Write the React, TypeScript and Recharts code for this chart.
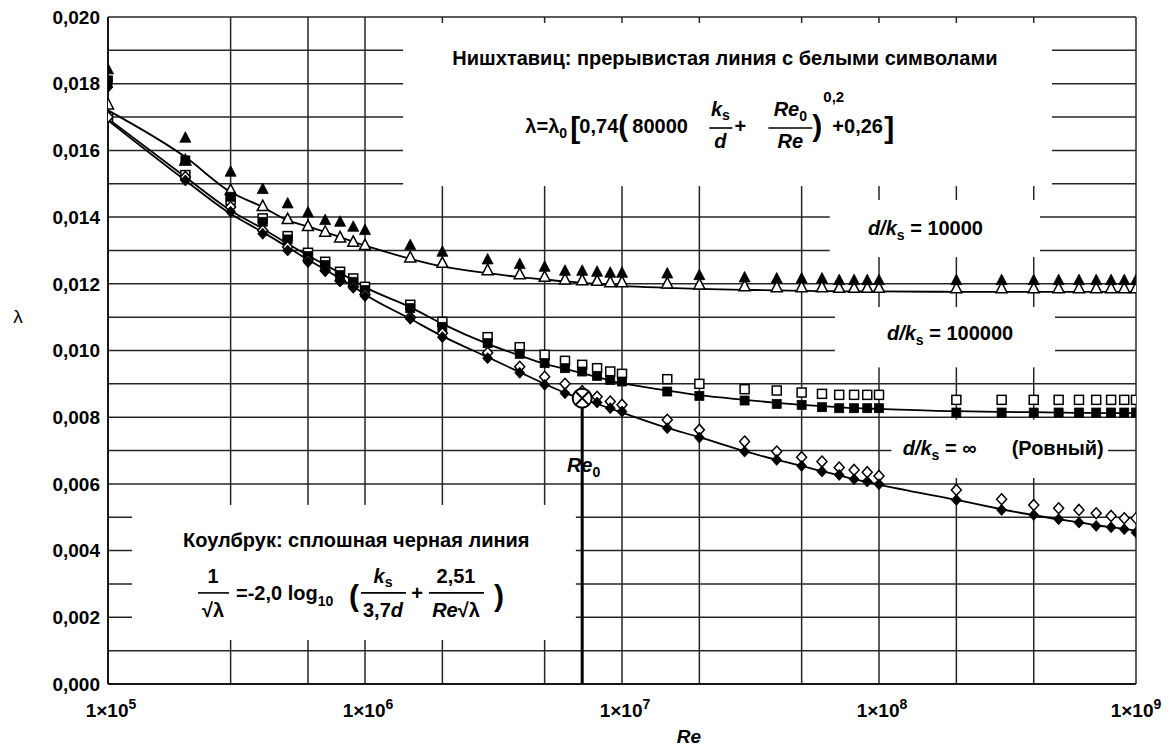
import React from 'react';
import {
  ComposedChart,
  Line,
  Scatter,
  XAxis,
  YAxis,
  CartesianGrid,
  ReferenceArea,
  ReferenceLine,
} from 'recharts';

const FONT = '"Liberation Sans", Arial, Helvetica, sans-serif';

// Reynolds numbers of the plotted points
const reynolds = [
  1e5, 2e5, 3e5, 4e5, 5e5, 6e5, 7e5, 8e5, 9e5, 1e6,
  1.5e6, 2e6, 3e6, 4e6, 5e6, 6e6, 7e6, 8e6, 9e6, 1e7,
  1.5e7, 2e7, 3e7, 4e7, 5e7, 6e7, 7e7, 8e7, 9e7, 1e8,
  2e8, 3e8, 4e8, 5e8, 6e8, 7e8, 8e8, 9e8, 1e9,
];

// d/ks = 10000
const triFilled = [
  0.01843, 0.01638, 0.01536, 0.01484, 0.01441, 0.01414, 0.01391, 0.01386, 0.01371, 0.01361,
  0.01316, 0.01296, 0.01273, 0.01259, 0.01251, 0.01239, 0.01239, 0.01236, 0.01233, 0.01233,
  0.01231, 0.01226, 0.01219, 0.01216, 0.01216, 0.01216, 0.01211, 0.01211, 0.01211, 0.01211,
  0.01211, 0.01211, 0.01211, 0.01211, 0.01211, 0.01211, 0.01211, 0.01211, 0.01211,
];
const triOpen = [
  0.01738, 0.0157, 0.01481, 0.01433, 0.01394, 0.01373, 0.01356, 0.01339, 0.01326, 0.01316,
  0.01279, 0.01263, 0.01241, 0.01229, 0.01221, 0.01213, 0.01211, 0.01209, 0.01205, 0.01205,
  0.01201, 0.01198, 0.01193, 0.0119, 0.0119, 0.0119, 0.01188, 0.01188, 0.01188, 0.01188,
  0.01187, 0.01187, 0.01187, 0.01187, 0.01187, 0.01187, 0.01187, 0.01187, 0.01187,
];
// d/ks = 100000
const sqFilled = [
  0.0181, 0.0157, 0.01461, 0.01386, 0.01333, 0.01283, 0.01256, 0.01226, 0.01206, 0.01181,
  0.01127, 0.01071, 0.01022, 0.0099, 0.00962, 0.00947, 0.00937, 0.00924, 0.00912, 0.00907,
  0.00877, 0.00864, 0.0085, 0.0084, 0.00837, 0.0083, 0.00827, 0.00827, 0.00827, 0.00827,
  0.00814, 0.00814, 0.00814, 0.00814, 0.00814, 0.00814, 0.00814, 0.00814, 0.00814,
];
const sqOpen = [
  0.017, 0.01526, 0.01451, 0.01396, 0.01343, 0.01293, 0.01266, 0.01236, 0.01216, 0.01191,
  0.01137, 0.01086, 0.0104, 0.0101, 0.00987, 0.00969, 0.00957, 0.00947, 0.00937, 0.0093,
  0.00914, 0.009, 0.00884, 0.0088, 0.00874, 0.0087, 0.00867, 0.00867, 0.00867, 0.00867,
  0.00852, 0.00852, 0.00852, 0.00852, 0.00852, 0.00852, 0.00852, 0.00852, 0.00852,
];
// d/ks = infinity (smooth)
const diaFilled = [
  0.0179, 0.0151, 0.01416, 0.0135, 0.013, 0.01265, 0.01238, 0.01207, 0.01188, 0.01163,
  0.01095, 0.0104, 0.00977, 0.00933, 0.00897, 0.00872, 0.00855, 0.00844, 0.00827, 0.00817,
  0.00767, 0.00739, 0.00697, 0.00672, 0.00654, 0.00637, 0.00627, 0.00614, 0.00607, 0.00599,
  0.00552, 0.00522, 0.00507, 0.00494, 0.00484, 0.00474, 0.0047, 0.00464, 0.00454,
];
const diaOpen = [
  0.017, 0.0152, 0.0143, 0.0136, 0.0131, 0.0127, 0.0124, 0.0121, 0.01192, 0.01168,
  0.011, 0.01052, 0.00993, 0.00951, 0.00921, 0.009, 0.00878, 0.00861, 0.00847, 0.00837,
  0.00792, 0.00762, 0.00727, 0.00697, 0.0068, 0.00667, 0.00649, 0.00642, 0.00635, 0.00624,
  0.00582, 0.00554, 0.00537, 0.00527, 0.00522, 0.00512, 0.00504, 0.00497, 0.00497,
];

// solid curves
const lineUpper = [
  0.0172, 0.0158, 0.01475, 0.0143, 0.0139, 0.01372, 0.01355, 0.0134, 0.01326, 0.01315,
  0.01275, 0.01252, 0.01232, 0.0122, 0.01213, 0.01207, 0.01203, 0.012, 0.01197, 0.01194,
  0.01188, 0.01185, 0.01182, 0.0118, 0.01179, 0.01178, 0.01178, 0.01177, 0.01177, 0.01177,
  0.01176, 0.01176, 0.01176, 0.01176, 0.01176, 0.01176, 0.01176, 0.01176, 0.01176,
];
const lineMiddle = [
  0.01695, 0.0152, 0.0142, 0.01365, 0.0132, 0.01285, 0.01257, 0.01232, 0.0121, 0.0119,
  0.0113, 0.0108, 0.0102, 0.00985, 0.0096, 0.00945, 0.00932, 0.0092, 0.0091, 0.00902,
  0.0088, 0.00866, 0.00852, 0.00843, 0.00837, 0.00833, 0.0083, 0.00827, 0.00826, 0.00825,
  0.00818, 0.00816, 0.00815, 0.00814, 0.00813, 0.00813, 0.00812, 0.00812, 0.00812,
];
const lineLower = [
  0.0169, 0.0151, 0.0141, 0.01355, 0.0131, 0.01272, 0.01243, 0.01215, 0.01192, 0.01168,
  0.01095, 0.01043, 0.0098, 0.00935, 0.009, 0.00873, 0.00855, 0.0084, 0.00826, 0.00814,
  0.00768, 0.0074, 0.00698, 0.00672, 0.00654, 0.00638, 0.00626, 0.00614, 0.00606, 0.00598,
  0.00552, 0.00524, 0.00506, 0.00494, 0.00485, 0.00476, 0.0047, 0.00465, 0.0046,
];

const re0 = 7e6;
const re0Lambda = 0.00857;

const xTicks = [1e5, 1e6, 1e7, 1e8, 1e9];
const xTickExponents = ['5', '6', '7', '8', '9'];
const yTicks = [0, 0.002, 0.004, 0.006, 0.008, 0.01, 0.012, 0.014, 0.016, 0.018, 0.02];
const yGrid = [
  0, 0.001, 0.002, 0.003, 0.004, 0.005, 0.006, 0.007, 0.008, 0.009, 0.01,
  0.011, 0.012, 0.013, 0.014, 0.015, 0.016, 0.017, 0.018, 0.019, 0.02,
];
const xGrid = [
  1e5, 2e5, 3e5, 4e5, 5e5, 6e5, 7e5, 8e5, 9e5,
  1e6, 2e6, 3e6, 4e6, 5e6, 6e6, 7e6, 8e6, 9e6,
  1e7, 2e7, 3e7, 4e7, 5e7, 6e7, 7e7, 8e7, 9e7,
  1e8, 2e8, 3e8, 4e8, 5e8, 6e8, 7e8, 8e8, 9e8, 1e9,
];

const toPoints = (ys: number[]) => reynolds.map((re, i) => ({ re, lam: ys[i] }));

const INK = '#000';

const triangle = (filled: boolean) => (p: any) => {
  const { cx, cy } = p;
  if (cx == null || cy == null) return <g />;
  return (
    <polygon
      points={`${cx},${cy - 6} ${cx - 5.5},${cy + 4.5} ${cx + 5.5},${cy + 4.5}`}
      fill={filled ? INK : '#fff'}
      stroke={INK}
      strokeWidth={filled ? 0.8 : 1.5}
    />
  );
};
const square = (filled: boolean) => (p: any) => {
  const { cx, cy } = p;
  if (cx == null || cy == null) return <g />;
  return (
    <rect
      x={cx - 4.5}
      y={cy - 4.5}
      width={9}
      height={9}
      fill={filled ? INK : '#fff'}
      stroke={INK}
      strokeWidth={filled ? 0.8 : 1.5}
    />
  );
};
const diamond = (filled: boolean) => (p: any) => {
  const { cx, cy } = p;
  if (cx == null || cy == null) return <g />;
  return (
    <polygon
      points={`${cx},${cy - 5.5} ${cx + 5},${cy} ${cx},${cy + 5.5} ${cx - 5},${cy}`}
      fill={filled ? INK : '#fff'}
      stroke={INK}
      strokeWidth={filled ? 0.8 : 1.5}
    />
  );
};
const crossCircle = (p: any) => {
  const { cx, cy } = p;
  if (cx == null || cy == null) return <g />;
  const d = 6.4;
  return (
    <g>
      <circle cx={cx} cy={cy} r={9.5} fill="#fff" stroke={INK} strokeWidth={2} />
      <line x1={cx - d} y1={cy - d} x2={cx + d} y2={cy + d} stroke={INK} strokeWidth={2} />
      <line x1={cx - d} y1={cy + d} x2={cx + d} y2={cy - d} stroke={INK} strokeWidth={2} />
    </g>
  );
};

const T = (props: any) => (
  <text fontFamily={FONT} fontWeight="bold" fontSize={20} fill={INK} {...props} />
);

type VB = { x: number; y: number; width: number; height: number };
const whiteBox = (draw: (b: VB) => React.ReactNode) => (props: any) => {
  const b = props && props.viewBox;
  if (!b) return <g />;
  return (
    <g>
      <rect x={b.x} y={b.y} width={b.width} height={b.height} fill="#fff" />
      {draw(b)}
    </g>
  );
};

const Bar = ({ x1, x2, y }: { x1: number; x2: number; y: number }) => (
  <line x1={x1} x2={x2} y1={y} y2={y} stroke={INK} strokeWidth={1.6} />
);

const drawNishtawitz = (b: VB) => {
  const x = b.x;
  const y = b.y;
  return (
    <g>
      <T x={x + 49} y={y + 42}>Нишхтавиц: прерывистая линия с белыми символами</T>
      <T x={x + 122} y={y + 110}>
        λ=λ<tspan dy={5} fontSize={14}>0</tspan>
      </T>
      <T x={x + 167} y={y + 115} fontSize={30}>[</T>
      <T x={x + 176} y={y + 110}>0,74</T>
      <T x={x + 215} y={y + 113} fontSize={30}>(</T>
      <T x={x + 229} y={y + 110}>80000</T>
      <T x={x + 317} y={y + 93} textAnchor="middle">
        <tspan fontStyle="italic">k</tspan>
        <tspan dy={4} fontSize={14}>s</tspan>
      </T>
      <Bar x1={x + 306} x2={x + 329} y={y + 105} />
      <T x={x + 317} y={y + 125} textAnchor="middle" fontStyle="italic">d</T>
      <T x={x + 337} y={y + 110} textAnchor="middle">+</T>
      <T x={x + 387} y={y + 93} textAnchor="middle">
        <tspan fontStyle="italic">Re</tspan>
        <tspan dy={5} fontSize={14}>0</tspan>
      </T>
      <Bar x1={x + 365} x2={x + 409} y={y + 105} />
      <T x={x + 387} y={y + 125} textAnchor="middle" fontStyle="italic">Re</T>
      <T x={x + 409} y={y + 113} fontSize={30}>)</T>
      <T x={x + 420} y={y + 79} fontSize={15}>0,2</T>
      <T x={x + 429} y={y + 110}>+0,26</T>
      <T x={x + 481} y={y + 115} fontSize={30}>]</T>
    </g>
  );
};

const drawColebrook = (b: VB) => {
  const x = b.x;
  const y = b.y;
  return (
    <g>
      <T x={x + 51} y={y + 42}>Коулбрук: сплошная черная линия</T>
      <T x={x + 81} y={y + 78} textAnchor="middle">1</T>
      <Bar x1={x + 66} x2={x + 97} y={y + 88} />
      <T x={x + 81} y={y + 112} textAnchor="middle">√λ</T>
      <T x={x + 104} y={y + 95}>
        =-2,0 log<tspan dy={6} fontSize={14}>10</tspan>
      </T>
      <T x={x + 217} y={y + 101} fontSize={30}>(</T>
      <T x={x + 251} y={y + 78} textAnchor="middle">
        <tspan fontStyle="italic">k</tspan>
        <tspan dy={4} fontSize={14}>s</tspan>
      </T>
      <Bar x1={x + 229} x2={x + 274} y={y + 88} />
      <T x={x + 251} y={y + 112} textAnchor="middle">
        3,7<tspan fontStyle="italic">d</tspan>
      </T>
      <T x={x + 285} y={y + 95} textAnchor="middle">+</T>
      <T x={x + 324} y={y + 78} textAnchor="middle">2,51</T>
      <Bar x1={x + 297} x2={x + 352} y={y + 88} />
      <T x={x + 324} y={y + 112} textAnchor="middle">
        <tspan fontStyle="italic">Re</tspan>√λ
      </T>
      <T x={x + 362} y={y + 101} fontSize={30}>)</T>
    </g>
  );
};

const dks = (value: string) => (
  <>
    <tspan fontStyle="italic">d/k</tspan>
    <tspan dy={5} fontSize={14}>s</tspan>
    <tspan dy={-5}>{' = '}{value}</tspan>
  </>
);

const drawD10000 = (b: VB) => <T x={b.x + 38} y={b.y + 35}>{dks('10000')}</T>;
const drawD100000 = (b: VB) => <T x={b.x + 52} y={b.y + 33}>{dks('100000')}</T>;
const drawSmooth = (b: VB) => (
  <g>
    <T x={b.x + 11} y={b.y + 35}>{dks('∞')}</T>
    <T x={b.x + 120} y={b.y + 35}>(Ровный)</T>
  </g>
);
const drawRe0 = (b: VB) => (
  <T x={b.x + 4} y={b.y + 18}>
    <tspan fontStyle="italic">Re</tspan>
    <tspan dy={5} fontSize={14}>0</tspan>
  </T>
);

const XTick = (props: any) => {
  const { x, y, payload, index } = props;
  const exp = xTickExponents[index] ?? String(Math.round(Math.log10(payload.value)));
  return (
    <text x={x + 3} y={y + 33} textAnchor="middle" fontFamily={FONT} fontWeight="bold" fontSize={19} fill={INK}>
      <tspan>1×10</tspan>
      <tspan dy={-8} fontSize={14}>{exp}</tspan>
    </text>
  );
};

const formatY = (v: number) => v.toFixed(3).replace('.', ',');

export default function App() {
  return (
    <div style={{ position: 'absolute', left: 0, top: 0, width: 1173, height: 747, background: '#fff' }}>
      <ComposedChart
        width={1173}
        height={747}
        margin={{ top: 17, right: 37, bottom: 0, left: 0 }}
        style={{ background: '#fff' }}
      >
        <CartesianGrid
          horizontalValues={yGrid}
          verticalValues={xGrid}
          stroke="#262626"
          strokeWidth={1.5}
        />
        <XAxis
          dataKey="re"
          type="number"
          scale="log"
          domain={[1e5, 1e9]}
          ticks={xTicks}
          allowDataOverflow
          height={63}
          tickSize={0}
          tickMargin={0}
          tick={<XTick />}
          axisLine={{ stroke: INK, strokeWidth: 1.5 }}
          label={{
            content: (p: any) => {
              const vb = p.viewBox || { x: 108, width: 1028, y: 684 };
              return (
                <text
                  x={vb.x + vb.width * 0.565}
                  y={vb.y + 59}
                  textAnchor="middle"
                  fontFamily={FONT}
                  fontWeight="bold"
                  fontStyle="italic"
                  fontSize={19}
                  fill={INK}
                >
                  Re
                </text>
              );
            },
          }}
        />
        <YAxis
          dataKey="lam"
          type="number"
          domain={[0, 0.02]}
          ticks={yTicks}
          allowDataOverflow
          width={108}
          tickSize={0}
          tickMargin={8}
          tickFormatter={formatY}
          tick={{ fontFamily: FONT, fontWeight: 'bold', fontSize: 19, fill: INK }}
          axisLine={{ stroke: INK, strokeWidth: 1.5 }}
          label={{
            content: () => (
              <text x={18} y={323} textAnchor="middle" fontFamily={FONT} fontSize={19} fill={INK}>
                λ
              </text>
            ),
          }}
        />

        <ReferenceLine
          segment={[
            { x: re0, y: 0 },
            { x: re0, y: re0Lambda },
          ]}
          stroke={INK}
          strokeWidth={3}
        />

        <Line data={toPoints(lineUpper)} dataKey="lam" type="monotone" stroke={INK} strokeWidth={1.8} dot={false} isAnimationActive={false} />
        <Line data={toPoints(lineMiddle)} dataKey="lam" type="monotone" stroke={INK} strokeWidth={1.8} dot={false} isAnimationActive={false} />
        <Line data={toPoints(lineLower)} dataKey="lam" type="monotone" stroke={INK} strokeWidth={1.8} dot={false} isAnimationActive={false} />

        <Scatter data={toPoints(triOpen)} dataKey="lam" shape={triangle(false)} isAnimationActive={false} />
        <Scatter data={toPoints(triFilled)} dataKey="lam" shape={triangle(true)} isAnimationActive={false} />
        <Scatter data={toPoints(sqOpen)} dataKey="lam" shape={square(false)} isAnimationActive={false} />
        <Scatter data={toPoints(sqFilled)} dataKey="lam" shape={square(true)} isAnimationActive={false} />
        <Scatter data={toPoints(diaOpen)} dataKey="lam" shape={diamond(false)} isAnimationActive={false} />
        <Scatter data={toPoints(diaFilled)} dataKey="lam" shape={diamond(true)} isAnimationActive={false} />
        <Scatter data={[{ re: re0, lam: re0Lambda }]} dataKey="lam" shape={crossCircle} isAnimationActive={false} />

        <ReferenceArea x1={1.41e6} x2={4.71e8} y1={0.01493} y2={0.01982} fill="#fff" fillOpacity={1} stroke="none" label={whiteBox(drawNishtawitz)} />
        <ReferenceArea x1={6.44e7} x2={4.23e8} y1={0.0128} y2={0.01451} fill="#fff" fillOpacity={1} stroke="none" label={whiteBox(drawD10000)} />
        <ReferenceArea x1={6.74e7} x2={4.84e8} y1={0.0095} y2={0.0113} fill="#fff" fillOpacity={1} stroke="none" label={whiteBox(drawD100000)} />
        <ReferenceArea x1={1.12e8} x2={7.78e8} y1={0.00618} y2={0.00792} fill="#fff" fillOpacity={1} stroke="none" label={whiteBox(drawSmooth)} />
        <ReferenceArea x1={1.24e5} x2={6.6e6} y1={0.00132} y2={0.00537} fill="#fff" fillOpacity={1} stroke="none" label={whiteBox(drawColebrook)} />
        <ReferenceArea x1={5.89e6} x2={8.67e6} y1={0.0061} y2={0.0069} fill="#fff" fillOpacity={1} stroke="none" label={whiteBox(drawRe0)} />
      </ComposedChart>
    </div>
  );
}
